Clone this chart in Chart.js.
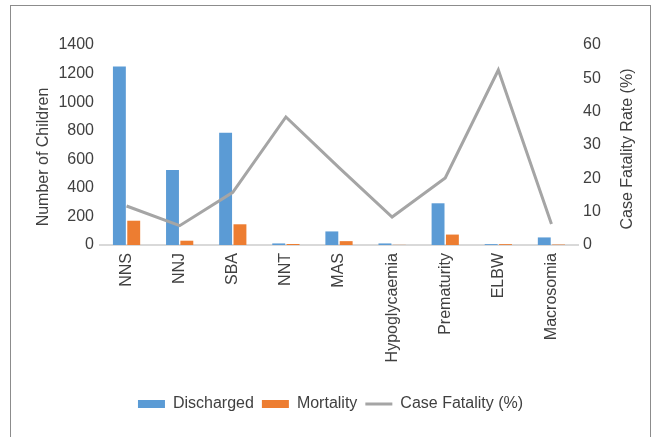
<!DOCTYPE html>
<html>
<head>
<meta charset="utf-8">
<script src="https://cdn.jsdelivr.net/npm/chart.js@4"></script>
<style>
  body { margin: 0; background: #fff; }
  #frame { position: absolute; left: 10px; top: 5px; width: 641px; height: 440px; border: 1px solid #8c8c8c; box-sizing: border-box; }
  #wrap { position: absolute; left: 0; top: 0; width: 661px; height: 437px; }
</style>
</head>
<body>
<div id="frame"></div>
<div id="wrap"><canvas id="myChart" width="661" height="437"></canvas></div>
<script>
const categories = ["NNS", "NNJ", "SBA", "NNT", "MAS", "Hypoglycaemia", "Prematurity", "ELBW", "Macrosomia"];
const discharged = [1250, 525, 786, 11, 95, 11, 292, 6, 53];
const mortality = [170, 30, 145, 7, 27, 1, 73, 6, 3];
const caseFatality = [11.7, 5.8, 15.8, 38.4, 23.2, 8.4, 20.1, 52.5, 6.3];
const leftTicks = [0, 1400, 200];
const rightTicks = [0, 60, 10];

const textColor = "#404040";
const font = { family: "'Liberation Sans', Arial, sans-serif", size: 16 };

// both axis titles read bottom-to-top, a bit below the middle like in Excel
const axisTitles = {
  id: "axisTitles",
  afterDraw(chart) {
    const { ctx, chartArea } = chart;
    const mid = (chartArea.top + chartArea.bottom) / 2;
    const draw = (text, x, y) => {
      ctx.save();
      ctx.translate(x, y);
      ctx.rotate(-Math.PI / 2);
      ctx.fillStyle = textColor;
      ctx.font = font.size + "px " + font.family;
      ctx.textAlign = "center";
      ctx.textBaseline = "middle";
      ctx.fillText(text, 0, 0);
      ctx.restore();
    };
    draw("Number of Children", chart.scales.y.left + 44, mid + 12);
    draw("Case Fatality Rate (%)", chart.scales.y1.left + 50, mid + 4);
  }
};

const ctx = document.getElementById("myChart");

const myChart = new Chart(ctx, {
  plugins: [axisTitles],
  data: {
    labels: categories,
    datasets: [
      {
        type: "bar",
        label: "Discharged",
        data: discharged,
        backgroundColor: "#5b9bd5",
        yAxisID: "y",
        order: 1,
        barPercentage: 0.9,
        categoryPercentage: 0.54,
      },
      {
        type: "bar",
        label: "Mortality",
        data: mortality,
        backgroundColor: "#ed7d31",
        yAxisID: "y",
        order: 1,
        barPercentage: 0.9,
        categoryPercentage: 0.54,
      },
      {
        type: "line",
        label: "Case Fatality (%)",
        data: caseFatality,
        borderColor: "#a5a5a5",
        backgroundColor: "#a5a5a5",
        borderWidth: 3,
        pointRadius: 0,
        tension: 0,
        yAxisID: "y1",
        order: 0,
      },
    ],
  },
  options: {
    responsive: false,
    animation: false,
    layout: {
      padding: { left: 0, right: 0, top: 45, bottom: 15 },
    },
    plugins: {
      tooltip: { enabled: false },
      legend: {
        position: "bottom",
        labels: {
          color: textColor,
          font: font,
          usePointStyle: true,
          pointStyleWidth: 27,
          boxHeight: 8,
          padding: 8,
          sort: (a, b) => a.datasetIndex - b.datasetIndex,
          generateLabels: function(chart) {
            const items = Chart.defaults.plugins.legend.labels.generateLabels(chart);
            items.forEach((item) => {
              item.pointStyle = item.datasetIndex === 2 ? "line" : "rect";
            });
            return items;
          },
        },
      },
    },
    scales: {
      x: {
        grid: { display: false, drawTicks: false },
        border: { display: true, color: "#d9d9d9", width: 2 },
        ticks: {
          color: textColor,
          font: font,
          autoSkip: false,
          maxRotation: 90,
          minRotation: 90,
          padding: 8,
        },
        afterFit: (scale) => { scale.height = 143; },
      },
      y: {
        position: "left",
        min: leftTicks[0],
        max: leftTicks[1],
        grid: { display: false, drawTicks: false },
        border: { display: false },
        ticks: { stepSize: leftTicks[2], color: textColor, font: font, padding: 6, callback: (v) => String(v) },
        afterFit: (scale) => { scale.width = 100; },
      },
      y1: {
        position: "right",
        min: rightTicks[0],
        max: rightTicks[1],
        grid: { display: false, drawTicks: false },
        border: { display: false },
        ticks: { stepSize: rightTicks[2], color: textColor, font: font, padding: 5, callback: (v) => String(v) },
        afterFit: (scale) => { scale.width = 83; },
      },
    },
  },
});
</script>
</body>
</html>
